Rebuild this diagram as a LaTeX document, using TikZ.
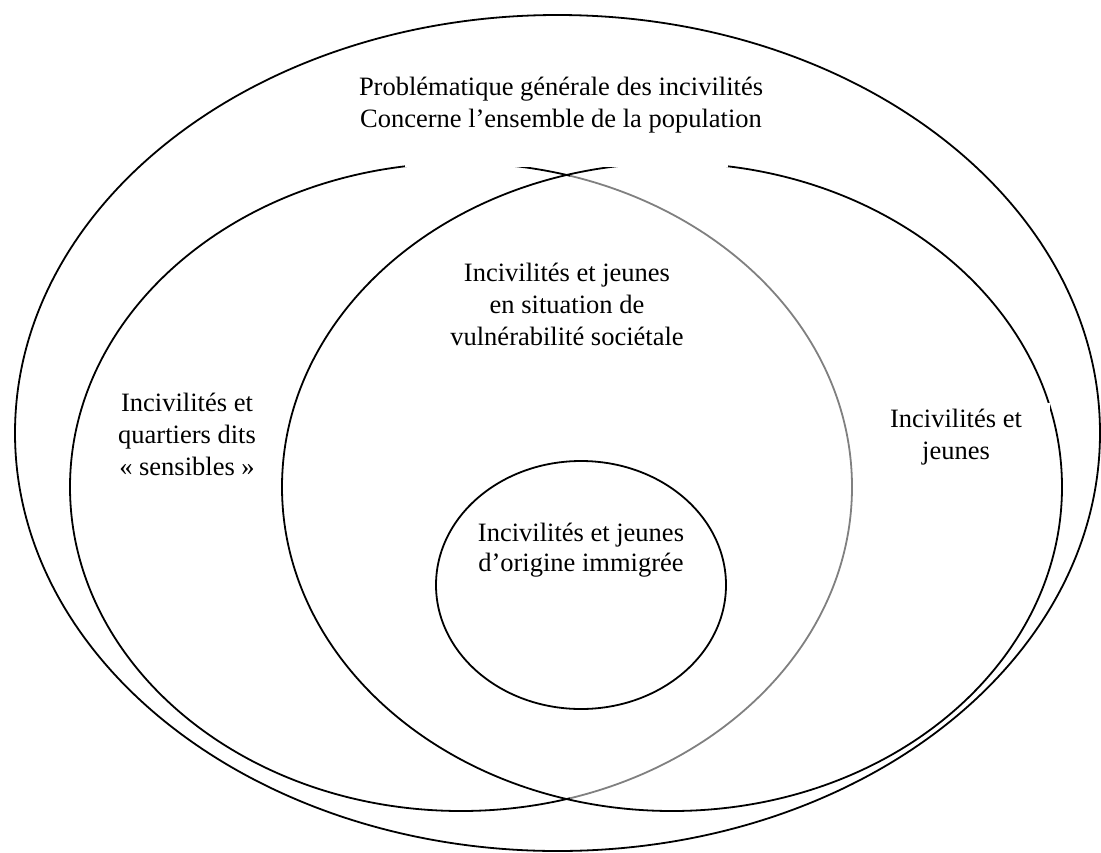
\documentclass[tikz,border=0pt]{standalone}
\usepackage{fontspec}
\setmainfont{Liberation Serif}
\begin{document}
\begin{tikzpicture}[x=1pt,y=-1pt,
  ring/.style={line width=1.8pt,black},
  grayring/.style={line width=1.8pt,color=gray},
  mask/.style={fill=white,draw=none},
  lbl/.style={align=center,inner sep=0pt,font=\fontsize{26.5}{32}\selectfont}]
\useasboundingbox (0,0) rectangle (1101,852);
% outer ellipse
\draw[ring] (557.5,433) ellipse [x radius=542.5pt, y radius=418pt];
% left ellipse A: left part black, right part gray
\begin{scope}
  \clip (0,0) rectangle (570,852);
  \draw[ring] (461,487) ellipse [x radius=391pt, y radius=324pt];
\end{scope}
\begin{scope}
  \clip (570,0) rectangle (1101,852);
  \draw[grayring] (461,487) ellipse [x radius=391pt, y radius=324pt];
\end{scope}
% right ellipse B
\draw[ring] (672,487) ellipse [x radius=390pt, y radius=324pt];
% inner ellipse
\draw[ring] (581,585) ellipse [x radius=145pt, y radius=124pt];
% white text boxes hiding parts of the ellipses
\fill[mask] (405,60) rectangle (728,167);
\fill[mask] (91,384) rectangle (275,490);
\fill[mask] (885,403) rectangle (1050,480);
% labels
\node[lbl] (title) at (561,105) {Problématique générale des incivilités\\Concerne l’ensemble de la population};
\node[lbl] (vuln) at (567,304) {Incivilités et jeunes\\en situation de\\vulnérabilité sociétale};
\node[lbl] (quart) at (187,434) {Incivilités et\\quartiers dits\\« sensibles »};
\node[lbl] (jeunes) at (956,437) {Incivilités et\\jeunes};
\node[lbl,font=\fontsize{26.5}{30}\selectfont] (immig) at (581,550) {Incivilités et jeunes\\d’origine immigrée};
\end{tikzpicture}
\end{document}
